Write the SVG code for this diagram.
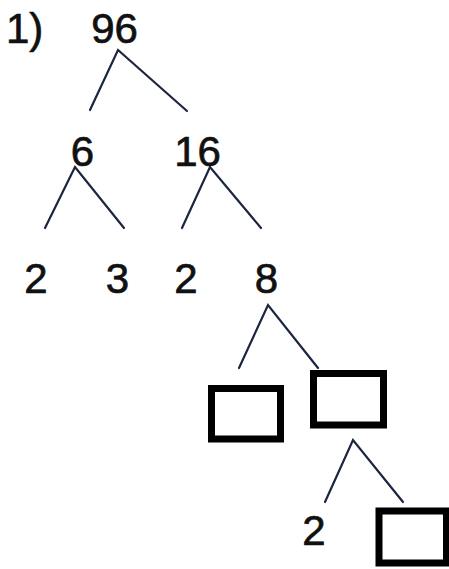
<svg xmlns="http://www.w3.org/2000/svg" width="449" height="569" viewBox="0 0 449 569">
  <style>
    .num { font-family: "Liberation Sans", Arial, sans-serif; font-size: 42px; fill: #111; stroke: #111; stroke-width: 0.7; text-anchor: middle; }
    .edge { stroke: #1c2540; stroke-width: 2.2; fill: none; stroke-linecap: round; }
    .box { fill: #fff; stroke: #000; stroke-width: 7; }
  </style>
  <rect width="449" height="569" fill="#fff"/>

  <text id="label" class="num" x="6" y="43" style="text-anchor:start">1)</text>

  <g id="connectors">
    <polyline class="edge" points="90,110 118,50 187,111"/>
    <polyline class="edge" points="45,228 75,167 124,228"/>
    <polyline class="edge" points="182,228 210,167 261,228"/>
    <polyline class="edge" points="239,368 268,305 318,368"/>
    <polyline class="edge" points="325,502 353,440 403,502"/>
  </g>

  <g id="n96"><text class="num" x="114.5" y="43">96</text></g>
  <g id="n6"><text class="num" x="82.5" y="166">6</text></g>
  <g id="n16"><text class="num" x="197.5" y="166">16</text></g>
  <g id="n2a"><text class="num" x="36" y="293">2</text></g>
  <g id="n3"><text class="num" x="117.5" y="293">3</text></g>
  <g id="n2b"><text class="num" x="186" y="293">2</text></g>
  <g id="n8"><text class="num" x="266.5" y="293">8</text></g>
  <g id="box1"><rect class="box" x="211.5" y="388.5" width="69" height="50.5"/></g>
  <g id="box2"><rect class="box" x="313.5" y="373.5" width="70" height="51.5"/></g>
  <g id="n2c"><text class="num" x="314" y="545">2</text></g>
  <g id="box3"><rect class="box" x="379" y="511" width="67.5" height="52"/></g>
</svg>
